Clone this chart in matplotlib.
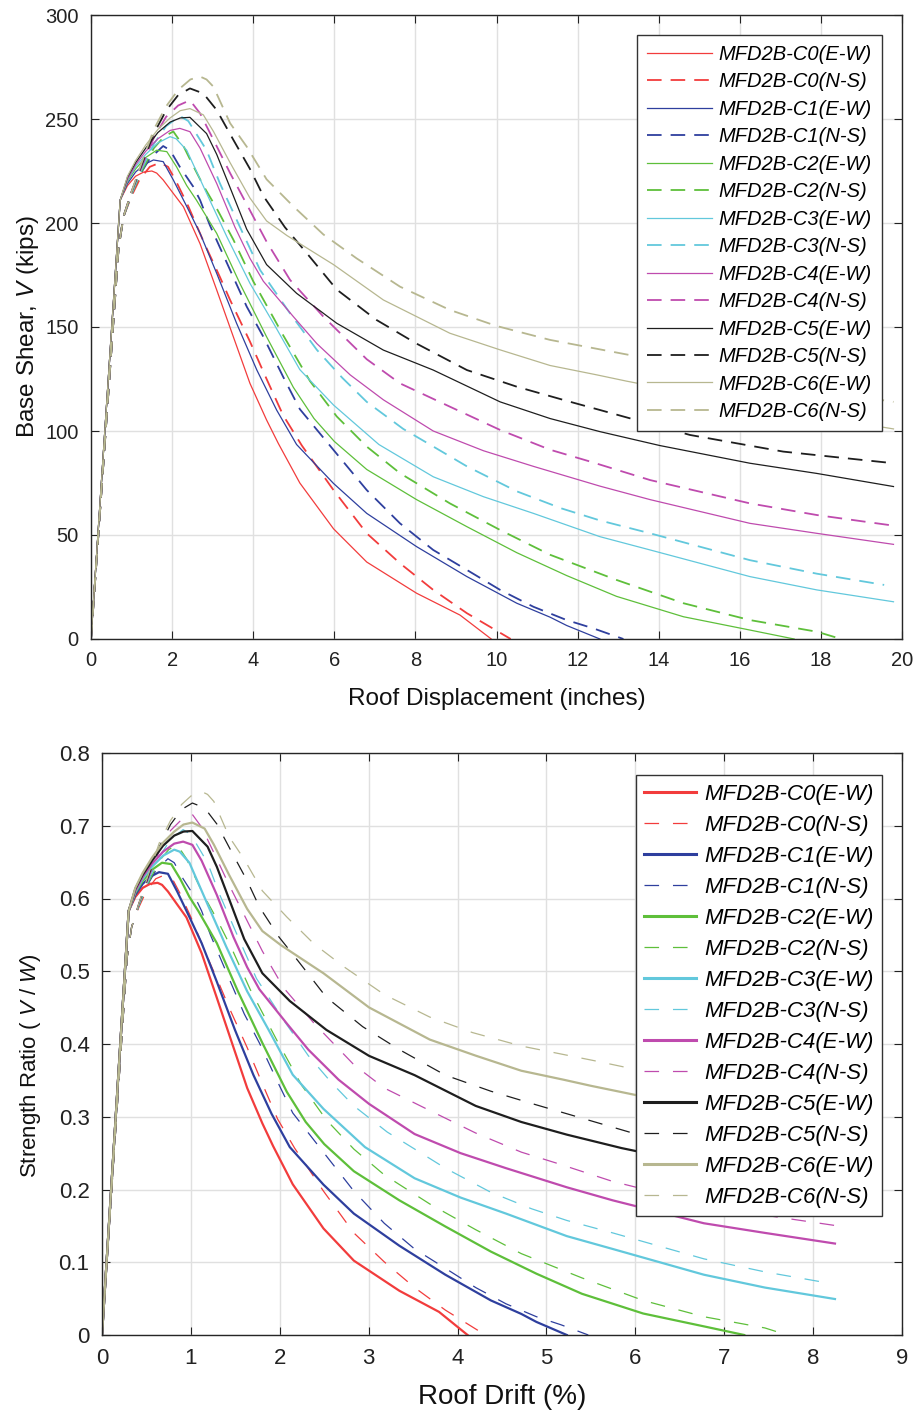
import matplotlib
matplotlib.use("Agg")
import matplotlib.pyplot as plt

plt.rcParams['font.family'] = ['Liberation Sans', 'DejaVu Sans']
plt.rcParams['mathtext.fontset'] = 'custom'
plt.rcParams['mathtext.rm'] = 'Liberation Sans'
plt.rcParams['mathtext.it'] = 'Liberation Sans:italic'
plt.rcParams['lines.scale_dashes'] = False

# ---------------- data: roof displacement (in) vs base shear (kips) ----------------
c0_ew_x = [0, 0.72, 0.9, 1.1, 1.3, 1.5, 1.62, 1.78, 2.0, 2.28, 2.69, 3.10, 3.51, 3.92, 4.33, 4.62, 5.15, 5.98, 6.80, 8.03, 9.10, 9.87]
c0_ew_v = [0, 211, 218, 222.5, 224.5, 225, 224, 220.7, 215, 207.8, 190, 167.8, 145.3, 122.9, 105.3, 94, 75, 53, 37, 22, 11.5, 0]
c0_ns_x = [0, 0.68, 0.8, 1.0, 1.2, 1.45, 1.7, 1.9, 2.1, 2.4, 2.8, 3.18, 3.43, 3.92, 4.33, 4.74, 5.20, 5.98, 6.80, 7.62, 8.44, 9.27, 10.35]
c0_ns_v = [0, 188, 203, 213, 221, 227, 229, 227, 220, 208, 190, 174, 163, 143, 125, 107.5, 93, 71.6, 50.8, 36.4, 23.6, 12.4, 0]
c1_ew_x = [0, 0.72, 0.9, 1.1, 1.3, 1.54, 1.78, 2.03, 2.36, 2.69, 3.10, 3.59, 4.09, 4.58, 5.07, 5.98, 6.80, 8.03, 9.27, 10.50, 11.32, 11.73, 12.55]
c1_ew_v = [0, 211, 219, 224.5, 228, 230.3, 229.5, 220.7, 208, 195, 175.8, 151.8, 129.3, 110, 93.5, 74.8, 60.4, 44.4, 30, 17.2, 10.5, 6.5, 0]
c1_ns_x = [0, 0.68, 0.8, 1.0, 1.2, 1.45, 1.78, 1.95, 2.19, 2.52, 2.69, 2.93, 3.43, 3.84, 4.25, 4.74, 5.15, 5.98, 6.80, 7.62, 8.44, 9.27, 10.09, 10.91, 11.73, 12.39, 13.13]
c1_ns_v = [0, 188, 203, 214, 223, 231, 237, 235, 227, 217.5, 211, 199, 177.4, 159.8, 145.3, 126, 110.5, 90.9, 71.6, 55.6, 42.8, 33.2, 23.6, 15.5, 9.1, 5.1, 0]
c2_ew_x = [0, 0.72, 0.9, 1.1, 1.35, 1.62, 1.87, 2.11, 2.36, 2.6, 3.10, 3.67, 4.33, 4.99, 5.5, 6.0, 6.8, 8.03, 9.27, 10.5, 11.73, 12.96, 14.61, 16.25, 17.34]
c2_ew_v = [0, 211, 220, 226, 231.5, 235, 234.3, 227, 218, 211, 195, 171, 145.3, 121, 106, 95, 81.5, 67, 54, 41.5, 30.5, 20.5, 10.7, 4.3, 0]
c2_ns_x = [0, 0.68, 0.8, 1.0, 1.25, 1.55, 1.8, 2.03, 2.28, 2.52, 2.77, 3.1, 3.51, 4.0, 4.74, 5.40, 6.06, 6.80, 7.62, 8.85, 10.09, 11.32, 12.96, 14.61, 16.25, 17.90, 18.5]
c2_ns_v = [0, 188, 203, 214, 225, 236, 241.5, 244, 237, 227.5, 218, 207, 192, 172, 146, 124, 107, 92.5, 79.7, 65.2, 52.4, 40.5, 28.4, 17.2, 9.1, 3.5, 0]
c3_ew_x = [0, 0.72, 0.9, 1.1, 1.35, 1.65, 1.95, 2.1, 2.36, 2.85, 3.35, 3.92, 4.50, 5.15, 5.98, 7.1, 8.44, 9.68, 10.91, 12.55, 13.79, 16.25, 17.90, 19.79]
c3_ew_v = [0, 211, 220.5, 227, 233, 238.5, 241.5, 240.5, 235, 214.3, 193.4, 171, 151.8, 129.5, 112.5, 93.5, 78, 68.4, 60.4, 49.2, 42.8, 30.0, 23.6, 17.9]
c3_ns_x = [0, 0.68, 0.8, 1.0, 1.25, 1.55, 1.85, 2.19, 2.4, 2.85, 3.18, 3.67, 4.17, 4.91, 5.57, 6.2, 6.8, 7.7, 8.4, 9.27, 10.5, 11.6, 12.55, 13.79, 16.25, 17.90, 19.56]
c3_ns_v = [0, 188, 203, 214, 226, 238, 246.5, 251.5, 249, 235, 219, 198.2, 177.4, 156.5, 139, 125.5, 114, 101, 93, 83, 71, 62.8, 57, 50.8, 37.9, 31.4, 26]
c4_ew_x = [0, 0.72, 0.9, 1.1, 1.35, 1.65, 1.95, 2.19, 2.44, 2.69, 3.10, 3.55, 3.92, 4.25, 4.99, 5.57, 6.39, 7.21, 8.44, 9.68, 10.91, 12.55, 13.79, 16.25, 17.90, 19.79]
c4_ew_v = [0, 211, 221, 228, 234.5, 240.5, 244.5, 245.5, 243.9, 236, 219, 198, 183, 172, 155, 142, 127, 115, 100, 90.5, 83, 73.5, 67, 55.6, 50.8, 45.5]
c4_ns_x = [0, 0.68, 0.8, 1.0, 1.25, 1.55, 1.85, 2.15, 2.44, 2.69, 3.02, 3.43, 3.84, 4.33, 4.91, 5.73, 6.80, 7.62, 8.85, 10.09, 11.32, 12.31, 13.79, 16.25, 17.90, 19.79]
c4_ns_v = [0, 188, 203, 215, 227, 241, 251, 256.5, 259, 252.7, 240, 224, 209, 191, 172.6, 155, 134.5, 122.9, 111.7, 100.5, 91, 85.3, 76.4, 65.2, 59.6, 54.5]
c5_ew_x = [0, 0.72, 0.9, 1.1, 1.35, 1.65, 1.95, 2.2, 2.44, 2.85, 3.1, 3.43, 3.84, 4.33, 5.07, 6.06, 7.21, 8.44, 10.09, 11.32, 12.55, 14.03, 16.25, 17.90, 19.79]
c5_ew_v = [0, 211, 222, 229, 236, 243.5, 248.5, 250.5, 250.8, 243, 233, 217, 197, 180, 166.2, 151.8, 138.9, 129.3, 114, 106, 99.7, 93, 84.5, 79.6, 73.3]
c5_ns_x = [0, 0.68, 0.8, 1.0, 1.25, 1.55, 1.85, 2.15, 2.44, 2.77, 3.10, 3.51, 3.92, 4.25, 4.78, 5.3, 6.06, 7.04, 8.03, 9.27, 10.5, 11.73, 12.55, 14.77, 17.07, 19.79]
c5_ns_v = [0, 188, 203, 215, 228, 243, 254, 261.5, 264.7, 262.3, 254.3, 240, 226, 213, 198, 186, 168, 153.4, 142, 129.3, 121.3, 114.5, 110.1, 98.1, 90.1, 84.5]
c6_ew_x = [0, 0.72, 0.9, 1.1, 1.35, 1.65, 1.95, 2.2, 2.44, 2.77, 3.02, 3.43, 3.92, 4.33, 4.83, 5.65, 5.98, 7.21, 8.85, 10.09, 11.32, 12.47, 13.2, 16.5, 19.79]
c6_ew_v = [0, 211, 222.5, 230, 237.5, 245, 250.5, 254, 255, 252, 244, 229, 212, 201, 194, 184, 180, 163, 147, 139, 131.5, 127, 124, 111.5, 101]
c6_ns_x = [0, 0.68, 0.8, 1.0, 1.25, 1.55, 1.85, 2.15, 2.45, 2.69, 2.85, 3.02, 3.43, 3.84, 4.33, 4.99, 5.73, 6.55, 7.62, 8.85, 10.0, 11.32, 13.29, 16.5, 19.79]
c6_ns_v = [0, 188, 203, 215, 229, 245, 256, 264, 269, 270.4, 269, 265.5, 248, 236.7, 221, 208, 194.5, 183, 169.4, 158.2, 150.5, 143.8, 136.5, 124, 114]

labels = ["MFD2B-C0(E-W)", "MFD2B-C0(N-S)", "MFD2B-C1(E-W)", "MFD2B-C1(N-S)",
          "MFD2B-C2(E-W)", "MFD2B-C2(N-S)", "MFD2B-C3(E-W)", "MFD2B-C3(N-S)",
          "MFD2B-C4(E-W)", "MFD2B-C4(N-S)", "MFD2B-C5(E-W)", "MFD2B-C5(N-S)",
          "MFD2B-C6(E-W)", "MFD2B-C6(N-S)"]
colors = ['#F23C3C', '#2E3F9E', '#5EBF3A', '#62C8DC', '#BF4BAE', '#1E1E1E', '#B7B790']

# unit conversions used by the second panel
ROOF_HEIGHT_IN = 240.0      # roof drift (%) = displacement / height * 100
SEISMIC_WEIGHT_KIPS = 362.0  # strength ratio = V / W

curves = [(c0_ew_x, c0_ew_v), (c0_ns_x, c0_ns_v), (c1_ew_x, c1_ew_v), (c1_ns_x, c1_ns_v),
          (c2_ew_x, c2_ew_v), (c2_ns_x, c2_ns_v), (c3_ew_x, c3_ew_v), (c3_ns_x, c3_ns_v),
          (c4_ew_x, c4_ew_v), (c4_ns_x, c4_ns_v), (c5_ew_x, c5_ew_v), (c5_ns_x, c5_ns_v),
          (c6_ew_x, c6_ew_v), (c6_ns_x, c6_ns_v)]

fig = plt.figure(figsize=(9.22, 14.16), dpi=100)
W, H = 922.0, 1416.0
ax1 = fig.add_axes([91 / W, 1 - 639 / H, 811 / W, 624 / H])
ax2 = fig.add_axes([102 / W, 1 - 1335 / H, 800 / W, 582 / H])

for i, (xs, vs) in enumerate(curves):
    col = colors[i // 2]
    ns = (i % 2 == 1)
    # top panel
    if ns:
        ax1.plot(xs, vs, color=col, lw=1.3, dashes=(10.5, 6.5), label=labels[i])
    else:
        ax1.plot(xs, vs, color=col, lw=0.9, label=labels[i])
    # bottom panel
    drift = [x / ROOF_HEIGHT_IN * 100 for x in xs]
    ratio = [v / SEISMIC_WEIGHT_KIPS for v in vs]
    if ns:
        ax2.plot(drift, ratio, color=col, lw=0.9, dashes=(10.5, 10), label=labels[i])
    else:
        ax2.plot(drift, ratio, color=col, lw=1.6, label=labels[i])


def style(ax, fs):
    ax.grid(True, color='#e0e0e0', lw=1.0)
    ax.set_axisbelow(True)
    ax.tick_params(direction='in', length=6, width=0.8, top=True, right=True,
                   labelsize=fs, pad=9, colors='#222222')
    for s in ax.spines.values():
        s.set_linewidth(1.0)
        s.set_color('#262626')


ax1.set_xlim(0, 20)
ax1.set_ylim(0, 300)
ax1.set_xticks(range(0, 21, 2))
ax1.set_yticks(range(0, 301, 50))
style(ax1, 14.5)
ax1.set_xlabel("Roof Displacement (inches)", fontsize=17.5, labelpad=12.5, color='#111111')
ax1.set_ylabel("Base Shear, $V$ (kips)", fontsize=17.5, labelpad=3, color='#111111')

ax2.set_xlim(0, 9)
ax2.set_ylim(0, 0.8)
ax2.set_xticks(range(0, 10))
ax2.set_yticks([i / 10 for i in range(9)])
ax2.set_yticklabels(['0'] + ['%.1f' % (i / 10) for i in range(1, 9)])
style(ax2, 16)
ax2.set_xlabel("Roof Drift (%)", fontsize=20, labelpad=11.5, color='#111111')
ax2.set_ylabel("Strength Ratio ( $V$ / $W$)", fontsize=16, color='#111111')
ax2.yaxis.set_label_coords(-0.0735, 0.462)

leg1 = ax1.legend(loc='upper right', bbox_to_anchor=(0.975, 0.968), borderaxespad=0,
                  prop={'family': 'Liberation Sans', 'style': 'italic', 'size': 14.5},
                  frameon=True, fancybox=False, framealpha=1, edgecolor='#333333',
                  borderpad=0.5, labelspacing=0.42, handlelength=3.2, handletextpad=0.33)
leg1.get_frame().set_linewidth(1.0)

leg2 = ax2.legend(loc='upper right', bbox_to_anchor=(0.975, 0.962), borderaxespad=0,
                  prop={'family': 'Liberation Sans', 'style': 'italic', 'size': 16},
                  frameon=True, fancybox=False, framealpha=1, edgecolor='#333333',
                  borderpad=0.38, labelspacing=0.45, handlelength=2.35, handletextpad=0.35)
leg2.get_frame().set_linewidth(1.0)
for lh in leg2.get_lines():
    if lh.get_linestyle() == '-':
        lh.set_linewidth(2.2)

fig.savefig("out.png", dpi=100)
